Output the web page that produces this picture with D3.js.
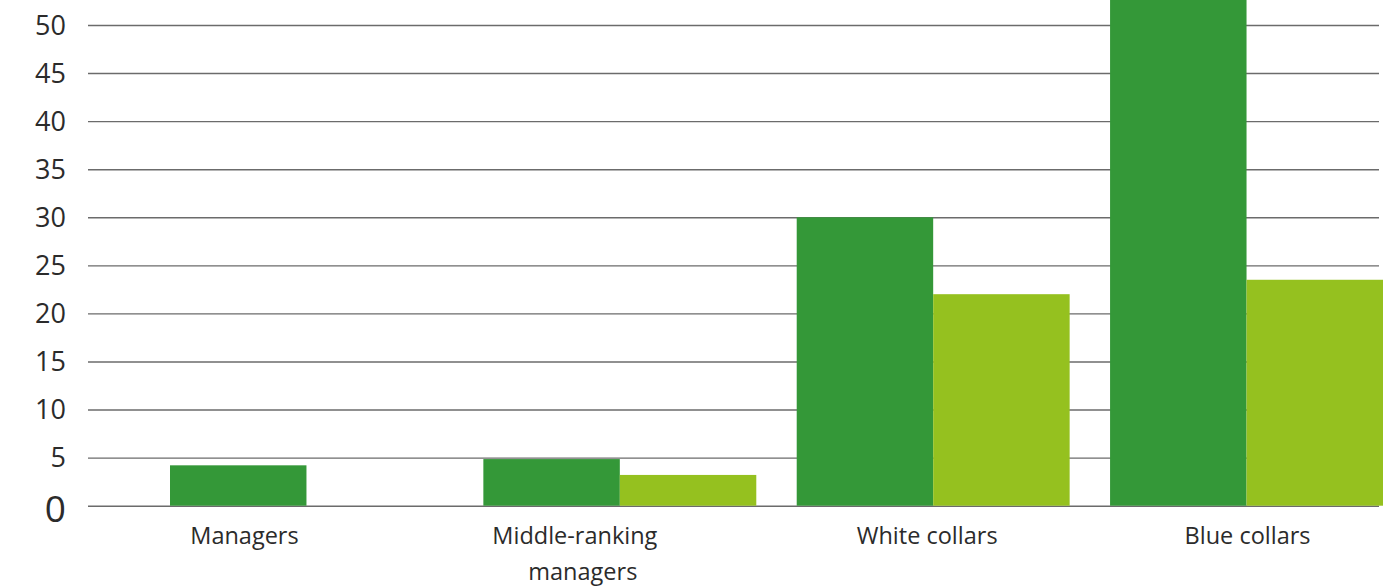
<!DOCTYPE html>
<html>
<head>
<meta charset="utf-8">
<script src="https://cdn.jsdelivr.net/npm/d3@7"></script>
<style>
  html, body { margin: 0; padding: 0; background: #fff; }
  svg { display: block; }
</style>
</head>
<body>
<div id="chart"></div>
<script>
'use strict';

const categories = ['Managers', 'Middle-ranking managers', 'White collars', 'Blue collars'];
const seriesA = [4.2, 4.85, 30, 56];
const seriesB = [0, 3.2, 22, 23.5];
const yTicks = [0, 5, 10, 15, 20, 25, 30, 35, 40, 45, 50];

const width = 1395;
const height = 587;
const colors = ['#349838', '#95c11f'];
// label nudges relative to group centre (as in the original layout)
const labelShift = [-62, -45, -6, 1];

const svg = d3
  .select('#chart')
  .append('svg')
  .attr('width', width)
  .attr('height', height);

const y = d3.scaleLinear().domain([0, 50]).range([505.7, 25]);

const x0 = d3
  .scaleBand()
  .domain(categories)
  .range([170, 1383])
  .paddingInner(0.129)
  .paddingOuter(0);

const x1 = d3
  .scaleBand()
  .domain(['a', 'b'])
  .range([0, x0.bandwidth()]);

// gridlines + tick labels
const yAxis = svg
  .append('g')
  .attr('transform', 'translate(88,0)')
  .call(
    d3.axisLeft(y)
      .tickValues(yTicks)
      .tickSize(-1291)
      .tickPadding(22)
      .tickFormat(d3.format('d'))
  );
yAxis.select('.domain').remove();
yAxis.selectAll('.tick line').attr('stroke', '#6b6b6b').attr('stroke-width', 1.4);
yAxis
  .selectAll('.tick text')
  .attr('fill', '#2b2b2b')
  .style('font-family', '"Open Sans", sans-serif')
  .style('font-size', (d) => (d === 0 ? '37px' : '27px'))
  .attr('dy', (d) => (d === 0 ? '0.42em' : '0.34em'));

const rows = categories.map((c, i) => ({ cat: c, vals: [seriesA[i], seriesB[i]] }));

const groups = svg
  .append('g')
  .selectAll('g')
  .data(rows)
  .enter()
  .append('g')
  .attr('transform', (d) => 'translate(' + x0(d.cat) + ',0)');

groups
  .selectAll('rect')
  .data((d) => d.vals.map((v, k) => ({ key: k === 0 ? 'a' : 'b', v, k })))
  .enter()
  .filter((d) => d.v > 0)
  .append('rect')
  .attr('x', (d) => x1(d.key))
  .attr('width', x1.bandwidth())
  .attr('y', (d) => y(d.v))
  .attr('height', (d) => y(0) - y(d.v))
  .attr('fill', (d) => colors[d.k]);

// category labels
const xAxis = svg
  .append('g')
  .attr('transform', 'translate(0,' + y(0) + ')')
  .call(d3.axisBottom(x0).tickSize(0).tickPadding(0).tickFormat(''));
xAxis.select('.domain').remove();

const labelLines = {
  'Middle-ranking managers': ['Middle-ranking', 'managers'],
};

xAxis
  .selectAll('.tick')
  .each(function(d, i) {
    const t = d3.select(this).select('text')
      .attr('x', labelShift[i])
      .attr('y', 38)
      .attr('dy', 0)
      .attr('fill', '#2b2b2b')
      .attr('text-anchor', 'middle')
      .style('font-family', '"Open Sans", sans-serif')
      .style('font-size', '23.5px');
    const lines = labelLines[d] || [d];
    lines.forEach((ln, j) => {
      t.append('tspan')
        .attr('x', labelShift[i] + (j > 0 ? 8 : 0))
        .attr('dy', j === 0 ? 0 : 36)
        .text(ln);
    });
  });
</script>
</body>
</html>
